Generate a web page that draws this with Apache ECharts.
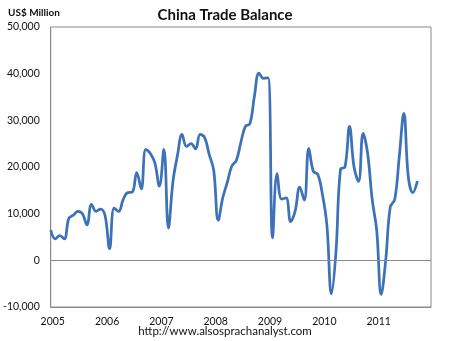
<!DOCTYPE html>
<html>
<head>
<meta charset="utf-8">
<script src="https://cdn.jsdelivr.net/npm/echarts@6/dist/echarts.min.js"></script>
<style>
  html, body { margin: 0; padding: 0; background: #fff; }
  #chart { width: 450px; height: 341px; }
</style>
</head>
<body>
<div id="chart"></div>
<script>
// Monthly trade balance, US$ million, Jan 2005 - Oct 2011
const years = ['2005', '2006', '2007', '2008', '2009', '2010', '2011'];
const balance2005 = [6500, 4600, 5300, 4600, 9000, 9700, 10500, 10000, 7600, 12000, 10500, 11000];
const balance2006 = [9600, 2500, 11200, 10500, 13000, 14500, 14600, 18800, 15300, 23800, 22900, 20900];
const balance2007 = [15900, 23800, 6900, 16900, 22500, 27000, 24400, 25000, 23900, 27000, 26300, 22700];
const balance2008 = [19300, 8600, 13400, 16700, 20200, 21400, 25300, 28700, 29300, 35200, 40100, 39000];
const balance2009 = [39100, 4800, 18600, 13100, 13400, 8300, 10600, 15700, 12900, 24000, 19100, 18400];
const balance2010 = [14200, 7600, -7200, 1700, 19500, 20000, 28700, 20000, 16900, 27200, 22900, 13100];
const balance2011 = [6500, -7300, 100, 11400, 13100, 22300, 31500, 17800, 14500, 17000];
const yTicks = { min: -10000, max: 50000, step: 10000 };

const balance = [].concat(balance2005, balance2006, balance2007, balance2008,
                          balance2009, balance2010, balance2011);

// month categories run through Jan 2012 so the axis ends past the last point
const months = [];
for (let y = 2005; y <= 2011; y++) {
  for (let m = 1; m <= 12; m++) months.push(y + '-' + m);
}
months.push('2012-1');

const font = 'Lato, "Open Sans", sans-serif';
const chart = echarts.init(document.getElementById('chart'), null, { renderer: 'canvas' });

chart.setOption({
  animation: false,
  backgroundColor: '#ffffff',
  textStyle: { fontFamily: font },
  title: {
    text: 'China Trade Balance',
    left: 'center',
    top: 3,
    textStyle: { fontFamily: font, fontSize: 15, fontWeight: 'bold', color: '#111' }
  },
  graphic: [
    {
      type: 'text', left: 8, top: 8,
      style: { text: 'US$ Million', font: 'bold 10px ' + font, fill: '#111' }
    },
    {
      type: 'text', left: 'center', top: 325,
      style: { text: 'http://www.alsosprachanalyst.com', font: '11.5px ' + font, fill: '#111' }
    }
  ],
  grid: {
    left: 48, right: 19, top: 27, bottom: 34,
    show: true, borderColor: '#8a8a8a', borderWidth: 1, containLabel: false
  },
  xAxis: {
    type: 'category',
    data: months,
    boundaryGap: false,
    axisLine: { onZero: false, lineStyle: { color: '#8a8a8a' } },
    axisTick: { show: false },
    splitLine: { show: false },
    axisLabel: {
      margin: 9,
      color: '#111',
      fontSize: 10.5,
      fontFamily: font,
      padding: [0, 0, 0, 4],
      interval: function (idx, val) {
        const parts = val.split('-');
        return parts[1] === '1' && years.indexOf(parts[0]) >= 0;
      },
      formatter: function (val) { return val.split('-')[0]; }
    }
  },
  yAxis: {
    type: 'value',
    min: yTicks.min,
    max: yTicks.max,
    interval: yTicks.step,
    axisLine: { show: true, lineStyle: { color: '#8a8a8a' } },
    axisTick: { show: false },
    splitLine: { show: false },
    axisLabel: {
      margin: 11,
      color: '#111',
      fontSize: 10.5,
      fontFamily: font,
      formatter: function (v) { return v.toLocaleString('en-US'); }
    }
  },
  series: [{
    type: 'line',
    data: balance,
    smooth: 0.4,
    showSymbol: false,
    lineStyle: { color: '#3d72b8', width: 2.75 },
    markLine: {
      silent: true,
      symbol: 'none',
      label: { show: false },
      lineStyle: { color: '#8a8a8a', width: 1, type: 'solid' },
      data: [{ yAxis: 0 }]
    },
    z: 3
  }]
});
</script>
</body>
</html>
